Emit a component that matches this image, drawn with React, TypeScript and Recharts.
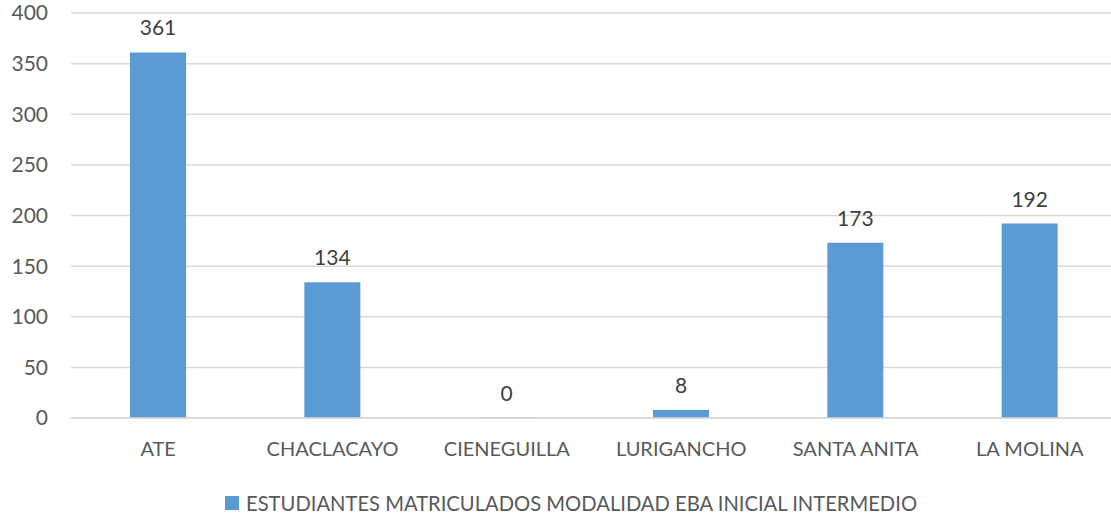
import { BarChart, Bar, XAxis, YAxis, CartesianGrid, LabelList, Legend } from "recharts";

// ─── data ────────────────────────────────────────────────────────────────────

const districts = ["ATE", "CHACLACAYO", "CIENEGUILLA", "LURIGANCHO", "SANTA ANITA", "LA MOLINA"];
const students = [361, 134, 0, 8, 173, 192];
const yTicks = [0, 50, 100, 150, 200, 250, 300, 350, 400];
const seriesName = "ESTUDIANTES MATRICULADOS MODALIDAD EBA INICIAL INTERMEDIO";

const data = districts.map((name, i) => ({ name, value: students[i] }));

const FONT = "Lato, sans-serif";
const BLUE = "#5B9BD5";

function LegendBox() {
  return (
    <div
      style={{
        display: "flex",
        alignItems: "center",
        height: 24,
        marginLeft: 225,
        fontFamily: FONT,
        fontSize: 20.2,
        color: "#595959",
        whiteSpace: "nowrap",
      }}
    >
      <span style={{ width: 14, height: 14, background: BLUE, marginRight: 7, display: "inline-block" }} />
      {seriesName}
    </div>
  );
}

export default function App() {
  return (
    <div style={{ position: "absolute", left: 0, top: 0, width: 1111, height: 517, overflow: "hidden", background: "#fff" }}>
      <BarChart
        width={1117}
        height={517}
        data={data}
        margin={{ top: 13, right: 0, left: 0, bottom: 2 }}
      >
        <CartesianGrid vertical={false} stroke="#D9D9D9" strokeWidth={1.5} />
        <XAxis
          dataKey="name"
          axisLine={{ stroke: "#D9D9D9", strokeWidth: 1.5 }}
          tickLine={false}
          tickSize={0}
          tickMargin={24}
          height={73}
          tick={{ fill: "#595959", fontSize: 20, fontFamily: FONT }}
        />
        <YAxis
          domain={[0, 400]}
          ticks={yTicks}
          width={71}
          axisLine={false}
          tickLine={false}
          tickSize={0}
          tickMargin={23}
          tick={{ fill: "#595959", fontSize: 21, fontFamily: FONT }}
        />
        <Legend verticalAlign="bottom" align="left" content={() => <LegendBox />} />
        <Bar
          dataKey="value"
          name={seriesName}
          fill={BLUE}
          barSize={56}
          minPointSize={0.5}
          isAnimationActive={false}
        >
          <LabelList
            dataKey="value"
            position="top"
            offset={17}
            fill="#404040"
            fontSize={21}
            fontFamily={FONT}
          />
        </Bar>
      </BarChart>
    </div>
  );
}
